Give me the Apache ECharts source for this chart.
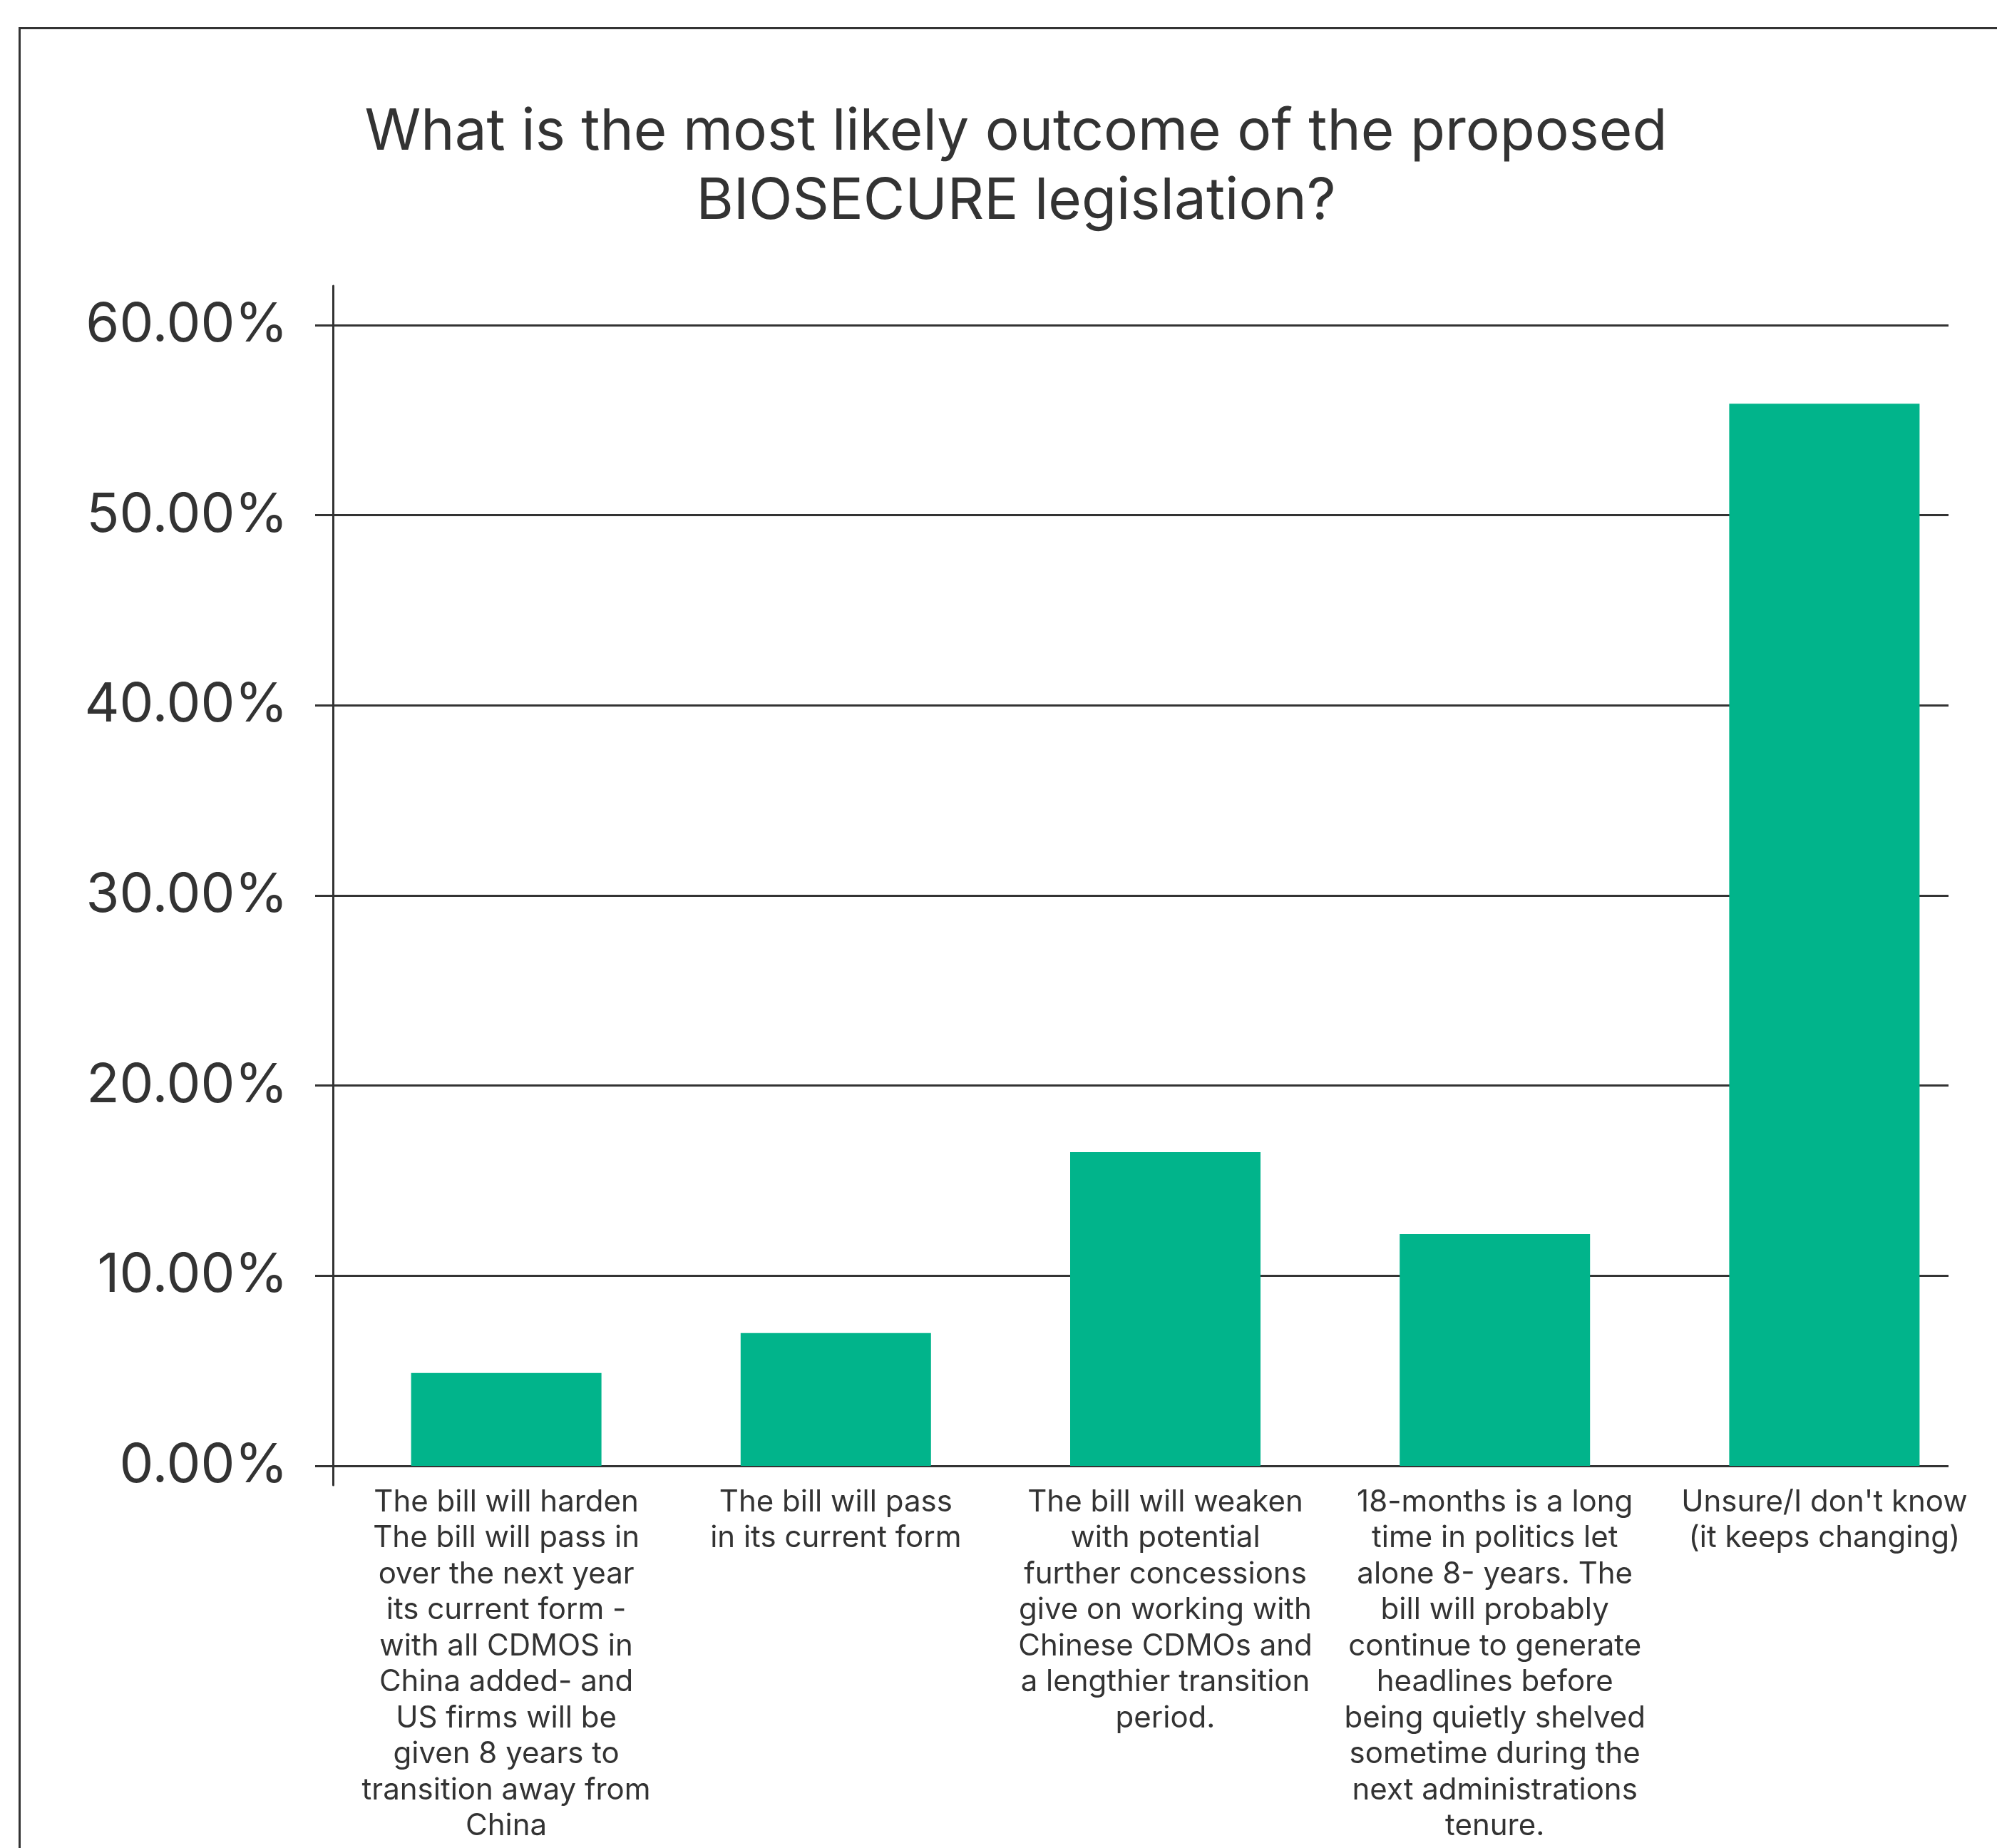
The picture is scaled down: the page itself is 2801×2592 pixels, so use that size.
<!DOCTYPE html>
<html>
<head>
<meta charset="utf-8">
<title>BIOSECURE legislation outcome</title>
<script src="https://cdn.jsdelivr.net/npm/echarts@6/dist/echarts.min.js"></script>
<style>
  html, body { margin: 0; padding: 0; background: #ffffff; }
  #chart { width: 2801px; height: 2592px; }
</style>
</head>
<body>
<div id="chart"></div>
<script>
// Survey question and answer options
const chartTitle = 'What is the most likely outcome of the proposed\nBIOSECURE legislation?';

const categories = [
  'The bill will harden\nThe bill will pass in\nover the next year\nits current form -\nwith all CDMOS in\nChina added- and\nUS firms will be\ngiven 8 years to\ntransition away from\nChina',
  'The bill will pass\nin its current form',
  'The bill will weaken\nwith potential\nfurther concessions\ngive on working with\nChinese CDMOs and\na lengthier transition\nperiod.',
  '18-months is a long\ntime in politics let\nalone 8- years. The\nbill will probably\ncontinue to generate\nheadlines before\nbeing quietly shelved\nsometime during the\nnext administrations\ntenure.',
  'Unsure/I don\'t know\n(it keeps changing)'
];

// Share of respondents, in percent
const shares = [4.88, 6.98, 16.5, 12.19, 55.87];

// Value axis range and tick step, in percent
const yMin = 0;
const yMax = 60;
const yStep = 10;

const ink = '#333333';
const barColor = '#01B48B';
const fontFamily = 'Inter, "Noto Sans", sans-serif';

const chart = echarts.init(document.getElementById('chart'), null, { renderer: 'canvas' });

chart.setOption({
  animation: false,
  backgroundColor: '#ffffff',
  title: {
    text: chartTitle,
    left: 1420,
    top: 132,
    textAlign: 'center',
    textStyle: {
      fontFamily: fontFamily,
      fontSize: 80,
      fontWeight: 'normal',
      lineHeight: 97,
      color: ink
    }
  },
  graphic: [{
    // outer frame running off the right and bottom edges
    type: 'rect',
    shape: { x: 27.5, y: 39.5, width: 4000, height: 4000 },
    style: { fill: 'none', stroke: ink, lineWidth: 3 },
    silent: true,
    z: -1
  }],
  grid: [
    // gridlines, ticks and value labels
    { left: 467, top: 456, width: 2266, height: 1600 },
    // bars and category labels
    { left: 479, top: 456, width: 2311, height: 1600 },
    // vertical axis line, slightly longer than the plot
    { left: 467, top: 401, width: 10, height: 1682 }
  ],
  xAxis: [
    { gridIndex: 0, type: 'value', show: false, min: 0, max: 1 },
    {
      gridIndex: 1,
      type: 'category',
      data: categories,
      axisLine: { show: false },
      axisTick: { show: false },
      axisLabel: {
        interval: 0,
        margin: 26,
        fontFamily: fontFamily,
        fontSize: 42,
        lineHeight: 50.5,
        color: ink,
        align: 'center'
      }
    },
    { gridIndex: 2, type: 'value', show: false, min: 0, max: 1 }
  ],
  yAxis: [
    {
      gridIndex: 0,
      type: 'value',
      min: yMin,
      max: yMax,
      interval: yStep,
      axisLine: { show: false },
      axisTick: { show: true, length: 25, lineStyle: { color: ink, width: 3 } },
      splitLine: { show: true, lineStyle: { color: ink, width: 3 } },
      axisLabel: {
        margin: 63,
        fontFamily: fontFamily,
        fontSize: 76,
        color: ink,
        formatter: function (v) { return v.toFixed(2) + '%'; }
      }
    },
    { gridIndex: 1, type: 'value', min: yMin, max: yMax, show: false },
    {
      gridIndex: 2,
      type: 'value',
      min: 0,
      max: 1,
      axisLine: { show: true, lineStyle: { color: ink, width: 3 } },
      axisTick: { show: false },
      axisLabel: { show: false },
      splitLine: { show: false }
    }
  ],
  series: [{
    type: 'bar',
    xAxisIndex: 1,
    yAxisIndex: 1,
    data: shares,
    barWidth: 267,
    itemStyle: { color: barColor },
    silent: true
  }]
});
</script>
</body>
</html>
